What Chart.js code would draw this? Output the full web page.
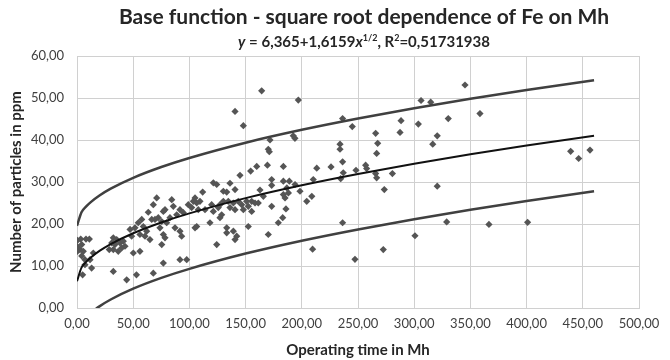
<!DOCTYPE html>
<html>
<head>
<meta charset="utf-8">
<script src="https://cdn.jsdelivr.net/npm/chart.js@4.4.1/dist/chart.umd.min.js"></script>
<style>
  body { margin: 0; background: #fff; }
  #wrap { width: 670px; height: 360px; }
</style>
</head>
<body>
<div id="wrap"><canvas id="chart" width="670" height="360"></canvas></div>
<script>
// measured points: operating time (Mh) and Fe (ppm)
const timeMh = [
  0.3, 3.3, 8, 11, 0, 4.2, 2.7, 5.6, 0.3, 4.2, 7.1, 11.6, 13, 7.1, 5, 14.5,
  32.3, 35.3, 30.9, 33.8, 38.3, 41.2, 28.7, 32.3, 36.7, 39.8, 42.7, 47.2, 48.6, 32.3, 44.2, 50.1,
  70.9, 67.9, 63.4, 57.6, 54.5, 51.6, 59, 62, 56, 60.5, 64.9, 69.4, 72.3, 76.8, 78.3, 75.4,
  79.8, 84.3, 85.7, 82.7, 88.7, 91.6, 94.6, 99, 103.5, 76.8, 78.3, 75.4, 87.2, 91.6, 93.1, 56,
  76.8, 91.6, 97.6, 52.9, 67.9, 66.5, 73.8,
  145, 154.5, 121.3, 124.3, 136.1, 140.6, 130.2, 133.2, 111.8, 105, 106.5, 109.4, 102, 107.9, 113.9, 119.8,
  121.3, 125.7, 127.2, 130.2, 134.6, 139.1, 143.5, 146.5, 150.9, 152.4, 136.1, 140.6, 148, 155.4, 128.7, 127.2,
  118.3, 105, 106.5, 133.2, 139.1, 142.1, 140.6, 133.2, 124.3, 152.4,
  164.3, 196.9, 171.7, 170.2, 171.1, 192.4, 193.9, 159.9, 169.4, 183.6, 213.3, 173.2, 173.2, 183.6, 188.9, 194,
  210.2, 162.8, 165.8, 155.4, 158.4, 161.3, 183.6, 185.1, 188.1, 186.7, 198.4, 204.4, 208.9, 173.2, 185.9, 183,
  179.1, 170.2, 209.6, 140.6, 148,
  236.3, 244.9, 234, 234, 236.3, 248.2, 226, 236.9, 234.6, 236.3, 247.3,
  306.1, 288.3, 303.7, 265.7, 287.4, 267.5, 266.6, 256.8, 257.7, 265.7, 266.6, 280.6, 273.4, 300.7, 272.5,
  345.2, 358.5, 330.3, 320.5, 316.5, 320.5, 328.9, 366.5, 400.9, 439.2, 446.3, 456.4, 314.7
];
const feValues = [
  16.1, 16.4, 16.4, 16.4, 14.7, 15.1, 13.9, 13.5, 13.5, 12.4, 11.5, 11.5, 9.5, 10.3, 7.9, 13.1,
  16.7, 16.3, 15.5, 15.1, 15.5, 15.9, 13.9, 13.9, 13.5, 14.3, 14.7, 18.7, 17.1, 8.7, 6.7, 13.1,
  26.2, 24.6, 22.8, 21.1, 20.3, 19.1, 19.4, 18.3, 17.5, 17.1, 16.3, 21.1, 21.5, 23, 23.4, 20.6,
  20.3, 25.8, 24.2, 21.5, 22.2, 23.4, 22.7, 24.6, 25.4, 17.5, 16.7, 15.1, 19.1, 18.3, 17.1, 13.5,
  10.7, 11.5, 11.5, 7.9, 8.3, 21.1, 19.1,
  31.6, 32.6, 29.8, 29.4, 29.7, 28.2, 27.8, 27.6, 27.6, 26.2, 25, 25.4, 23.9, 23.4, 23.4, 24.6,
  23, 23.9, 24.6, 25.4, 25.4, 25, 25.4, 24.6, 25.4, 24.2, 23.9, 23.4, 23.4, 23, 22.2, 21.5,
  20.3, 19.1, 19.4, 19.1, 18.3, 17.1, 16.3, 17.9, 15.1, 19.4,
  51.7, 49.5, 40, 37.8, 37.2, 41, 40.4, 33.7, 34, 33.7, 33.3, 30.6, 29.2, 30.2, 30.2, 29.4,
  30.6, 28.1, 26.6, 25.4, 25, 25, 27, 26.2, 27.4, 28.6, 27.8, 25.4, 26.6, 24.2, 23.6, 21.5,
  20.3, 17.5, 14, 46.8, 43.4,
  45.1, 43.2, 39, 37.8, 34.8, 32.8, 33.6, 32.2, 30.8, 20.3, 11.6,
  49.4, 44.6, 43.8, 41.6, 41.8, 39.2, 36.8, 34, 33.2, 32, 31, 32, 28.2, 17.2, 13.9,
  53.1, 46.3, 45.1, 41, 39, 29, 20.5, 19.9, 20.4, 37.3, 35.6, 37.6, 49
];

// base function y = 6,365 + 1,6159 x^1/2 and its +/- band, read at these x
const curveX = [0, 4, 8, 12, 20, 30, 50, 75, 100, 150, 200, 250, 300, 350, 400, 460];
const fitY = [6.37, 9.60, 10.94, 11.96, 13.59, 15.22, 17.79, 20.36, 22.52, 26.16, 29.22, 31.91, 34.35, 36.60, 38.68, 41.02];
const upperY = [19.57, 22.80, 24.14, 25.16, 26.79, 28.42, 30.99, 33.56, 35.72, 39.36, 42.42, 45.11, 47.55, 49.80, 51.88, 54.22];
const lowerY = [-6.83, -3.60, -2.26, -1.24, 0.39, 2.02, 4.59, 7.16, 9.32, 12.96, 16.02, 18.71, 21.15, 23.40, 25.48, 27.82];

const FONT = 'Lato, "Open Sans", sans-serif';

function toPoints(xs, ys) {
    return xs.map((x, i) => ({ x: x, y: ys[i] }));
}

function commaNum(v) {
    return Number(v).toFixed(2).replace('.', ',');
}

// title and equation line, drawn by hand so the exponents can be raised
const titlePlugin = {
    id: 'titleBlock',
    afterDraw(chart) {
        const ctx = chart.ctx;
        const area = chart.chartArea;
        const cx = (area.left + area.right) / 2 + 6;
        ctx.save();
        ctx.fillStyle = '#262626';
        ctx.textBaseline = 'alphabetic';
        ctx.textAlign = 'left';

        ctx.font = 'bold 21px ' + FONT;
        const title = 'Base function - square root dependence of Fe on Mh';
        ctx.fillText(title, cx - ctx.measureText(title).width / 2, 24);

        const parts = [
            { t: 'y', f: 'italic bold 15px ' + FONT, dy: 0 },
            { t: ' = 6,365+1,6159', f: 'bold 15px ' + FONT, dy: 0 },
            { t: 'x', f: 'italic bold 15px ' + FONT, dy: 0 },
            { t: '1/2', f: 'bold 9px ' + FONT, dy: -6 },
            { t: ', R', f: 'bold 15px ' + FONT, dy: 0 },
            { t: '2', f: 'bold 9px ' + FONT, dy: -6 },
            { t: '=0,51731938', f: 'bold 15px ' + FONT, dy: 0 }
        ];
        let total = 0;
        parts.forEach(p => { ctx.font = p.f; p.w = ctx.measureText(p.t).width; total += p.w; });
        let x = cx - total / 2;
        parts.forEach(p => {
            ctx.font = p.f;
            ctx.fillText(p.t, x, 47 + p.dy);
            x += p.w;
        });
        ctx.restore();
    }
};

const ctx = document.getElementById('chart').getContext('2d');
const chart = new Chart(ctx, {
    type: 'scatter',
    data: {
        datasets: [
            {
                label: 'Fe',
                data: toPoints(timeMh, feValues),
                pointStyle: 'rectRot',
                pointRadius: 3.6,
                pointBackgroundColor: '#555555',
                pointBorderWidth: 0,
                order: 2
            },
            {
                label: 'upper',
                type: 'line',
                data: toPoints(curveX, upperY),
                borderColor: '#404040',
                borderWidth: 2.5,
                pointRadius: 0,
                cubicInterpolationMode: 'monotone',
                clip: 0,
                order: 1
            },
            {
                label: 'base function',
                type: 'line',
                data: toPoints(curveX, fitY),
                borderColor: '#111111',
                borderWidth: 2,
                pointRadius: 0,
                cubicInterpolationMode: 'monotone',
                clip: 0,
                order: 1
            },
            {
                label: 'lower',
                type: 'line',
                data: toPoints(curveX, lowerY),
                borderColor: '#404040',
                borderWidth: 2.5,
                pointRadius: 0,
                cubicInterpolationMode: 'monotone',
                clip: 0,
                order: 1
            }
        ]
    },
    options: {
        responsive: false,
        animation: false,
        layout: { padding: { top: 56, right: 31, left: 0, bottom: 0 } },
        plugins: {
            legend: { display: false },
            title: { display: false },
            tooltip: { enabled: false }
        },
        scales: {
            x: {
                type: 'linear',
                min: 0,
                max: 500,
                ticks: {
                    stepSize: 50,
                    padding: 8,
                    color: '#404040',
                    font: { family: FONT, size: 13 },
                    maxRotation: 0,
                    callback: commaNum
                },
                grid: { color: '#d0d0d0', drawTicks: false },
                border: { color: '#d0d0d0' },
                title: {
                    display: true,
                    text: 'Operating time in Mh',
                    color: '#262626',
                    font: { family: FONT, size: 15, weight: 'bold' },
                    padding: { top: 0, bottom: 1 }
                },
                afterFit(scale) { scale.height = 52; }
            },
            y: {
                type: 'linear',
                min: 0,
                max: 60,
                ticks: {
                    stepSize: 10,
                    padding: 13,
                    color: '#404040',
                    font: { family: FONT, size: 13 },
                    callback: commaNum
                },
                grid: { color: '#d0d0d0', drawTicks: false },
                border: { color: '#d0d0d0' },
                title: {
                    display: true,
                    text: 'Number of particles in ppm',
                    color: '#262626',
                    font: { family: FONT, size: 15, weight: 'bold' },
                    padding: { top: 7, bottom: 0 }
                },
                afterFit(scale) { scale.width = 77; }
            }
        }
    },
    plugins: [titlePlugin]
});
</script>
</body>
</html>
